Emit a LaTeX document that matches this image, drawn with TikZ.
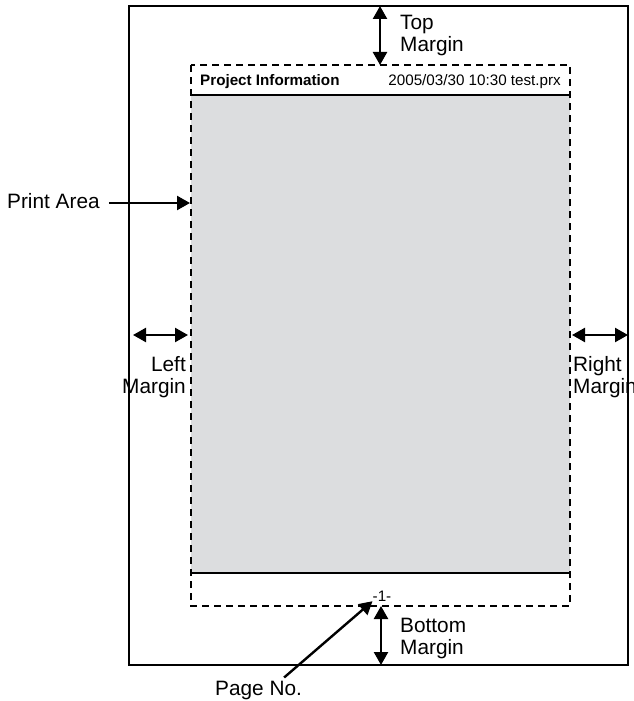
\documentclass[tikz,border=0pt]{standalone}
\usepackage{fontspec}
\setmainfont{Liberation Sans}
\usetikzlibrary{arrows.meta}
\definecolor{areagrey}{HTML}{DCDDDF}
\tikzset{
  lbl/.style={inner sep=0pt, font=\fontsize{20.8}{22}\selectfont},
  small/.style={inner sep=0pt, font=\fontsize{15.2}{18}\selectfont},
  arr/.style={line width=2.4pt, -{Triangle[length=13pt,width=14pt]}},
  darr/.style={line width=2.4pt, {Triangle[length=13pt,width=14pt]}-{Triangle[length=13pt,width=14pt]}},
  dashbox/.style={line width=2.2pt, dash pattern=on 7pt off 5pt},
}
\begin{document}
\begin{tikzpicture}[x=1pt,y=-1pt]
\useasboundingbox (0,0) rectangle (633,701);
% page
\draw[line width=2.2pt] (129,6) rectangle (628,665);
% print area
\fill[areagrey] (191,95) rectangle (570,573);
\draw[line width=2.2pt] (191,95) -- (570,95);
\draw[line width=2.2pt] (191,573) -- (570,573);
\draw[dashbox] (191,65) rectangle (570,606);
\coordinate (patop) at (380,65);
\coordinate (pabot) at (381,606);
\coordinate (pgtop) at (380,6);
\coordinate (pgbot) at (381,665);
\coordinate (paleft) at (190,203);
\coordinate (lmL) at (133,335);
\coordinate (lmR) at (188,335);
\coordinate (rmL) at (572,335);
\coordinate (rmR) at (628,335);
% header texts
\node[small, anchor=base west, font=\bfseries\fontsize{15.2}{18}\selectfont] (proj) at (200,85) {Project Information};
\node[small, anchor=base east] (date) at (561,85) {2005/03/30 10:30 test.prx};
\node[small, anchor=base] (pno) at (382,601) {-1-};
% labels (base anchor = baseline of last line)
\node[lbl, anchor=base west, align=left] (top) at (400,52) {Top\\Margin};
\node[lbl, anchor=base west, align=left] (bottom) at (400,654) {Bottom\\Margin};
\node[lbl, anchor=base west] (pa) at (7,208) {Print Area};
\node[lbl, anchor=base east, align=right] (left) at (186,393) {Left\\Margin};
\node[lbl, anchor=base west, align=left] (right) at (573,393) {Right\\Margin};
\node[lbl, anchor=base west] (pageno) at (215,695) {Page No.};
% arrows
\draw[darr] (pgtop) -- (patop);
\draw[darr] (pabot) -- (pgbot);
\draw[arr] (pa.east |- paleft) ++(9,0) -- (paleft);
\draw[darr] (lmL) -- (lmR);
\draw[darr] (rmL) -- (rmR);
\draw[arr] (pageno.north east) ++(-18,-3) -- (pno.south west);
\end{tikzpicture}
\end{document}
